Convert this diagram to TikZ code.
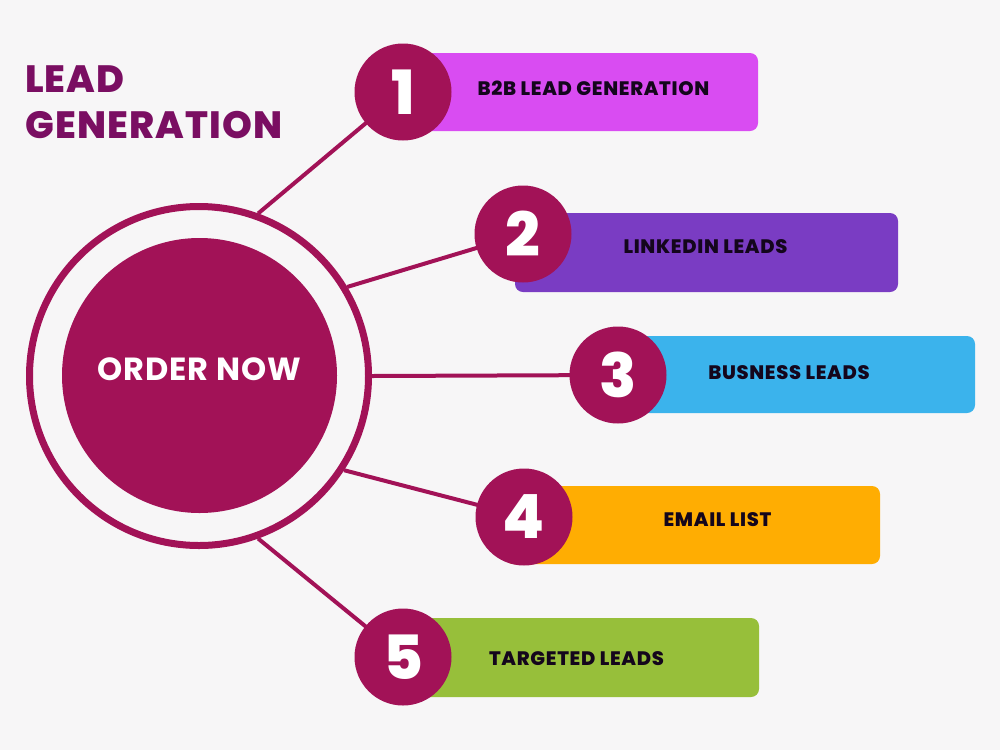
\documentclass[tikz,border=0pt]{standalone}
\usepackage{fontspec}
\setmainfont{Poppins}
\newfontfamily\heavy{Poppins ExtraBold}
\definecolor{bgc}{HTML}{F7F6F7}
\definecolor{mag}{HTML}{A21257}
\definecolor{titlec}{HTML}{7A0E62}
\definecolor{ink}{HTML}{14061C}
\definecolor{c1}{HTML}{D94CF2}
\definecolor{c2}{HTML}{7A3CC3}
\definecolor{c3}{HTML}{3BB3EC}
\definecolor{c4}{HTML}{FFAD02}
\definecolor{c5}{HTML}{97BF3A}
\pgfdeclarelayer{bglayer}
\pgfdeclarelayer{linklayer}
\pgfsetlayers{bglayer,linklayer,main}
\begin{document}
\begin{tikzpicture}[x=1pt,y=-1pt,
  link/.style={draw=mag, line width=4pt},
  numc/.style={circle, fill=mag, minimum size=97pt, inner sep=0pt, text=white,
    font=\fontsize{61}{61}\heavy},
  itembox/.style={rounded corners=8pt, inner sep=0pt},
  lbl/.style={text=ink, font=\fontsize{19.5}{19.5}\heavy\addfontfeatures{LetterSpace=3.5}, inner sep=0pt},
  titlelbl/.style={text=titlec, font=\fontsize{38}{38}\heavy\addfontfeatures{LetterSpace=3}, inner sep=0pt, anchor=base west}]
\begin{pgfonlayer}{bglayer}
  \fill[bgc] (0,0) rectangle (1000,750);
\end{pgfonlayer}
\useasboundingbox (0,0) rectangle (1000,750);

% title
\node[titlelbl] (title1) at (25,92) {LEAD};
\node[titlelbl] (title2) at (25,138) {GENERATION};

% central circle
\node[circle, draw=mag, line width=7pt, minimum size=339pt, inner sep=0pt] (ring) at (199,376) {};
\node[circle, fill=mag, minimum size=275pt, inner sep=0pt] (core) at (199.5,375.5) {};
\node[text=white, font=\fontsize{32}{32}\bfseries\addfontfeatures{LetterSpace=3}, inner sep=0pt] (order) at (199,369) {ORDER NOW};

% boxes
\node[itembox, fill=c1, minimum width=338pt, minimum height=78pt] (b1) at (589,92) {};
\node[itembox, fill=c2, minimum width=383pt, minimum height=79pt] (b2) at (706.5,252.5) {};
\node[itembox, fill=c3, minimum width=375pt, minimum height=77pt] (b3) at (787.5,374.5) {};
\node[itembox, fill=c4, minimum width=375pt, minimum height=78pt] (b4) at (692.5,525) {};
\node[itembox, fill=c5, minimum width=359pt, minimum height=79pt] (b5) at (579.5,657.5) {};

\node[lbl] (t1) at (593.5,88) {B2B LEAD GENERATION};
\node[lbl] (t2) at (705.5,247) {LINKEDIN LEADS};
\node[lbl] (t3) at (789,373) {BUSNESS LEADS};
\node[lbl] (t4) at (717.5,520) {EMAIL LIST};
\node[lbl] (t5) at (576.5,659) {TARGETED LEADS};

% number circles
\node[numc] (n1) at (403,92) {1};
\node[numc] (n2) at (523,234) {2};
\node[numc] (n3) at (618,375) {3};
\node[numc] (n4) at (524,517) {4};
\node[numc] (n5) at (403,657) {5};

% connectors
\begin{pgfonlayer}{linklayer}
  \draw[link] (ring.70) -- (n1.center);
  \draw[link] (ring.31) -- (n2.center);
  \draw[link] (ring.0) -- (n3.center);
  \draw[link] (ring.-33) -- (n4.center);
  \draw[link] (ring.-70) -- (n5.center);
\end{pgfonlayer}
\end{tikzpicture}
\end{document}
